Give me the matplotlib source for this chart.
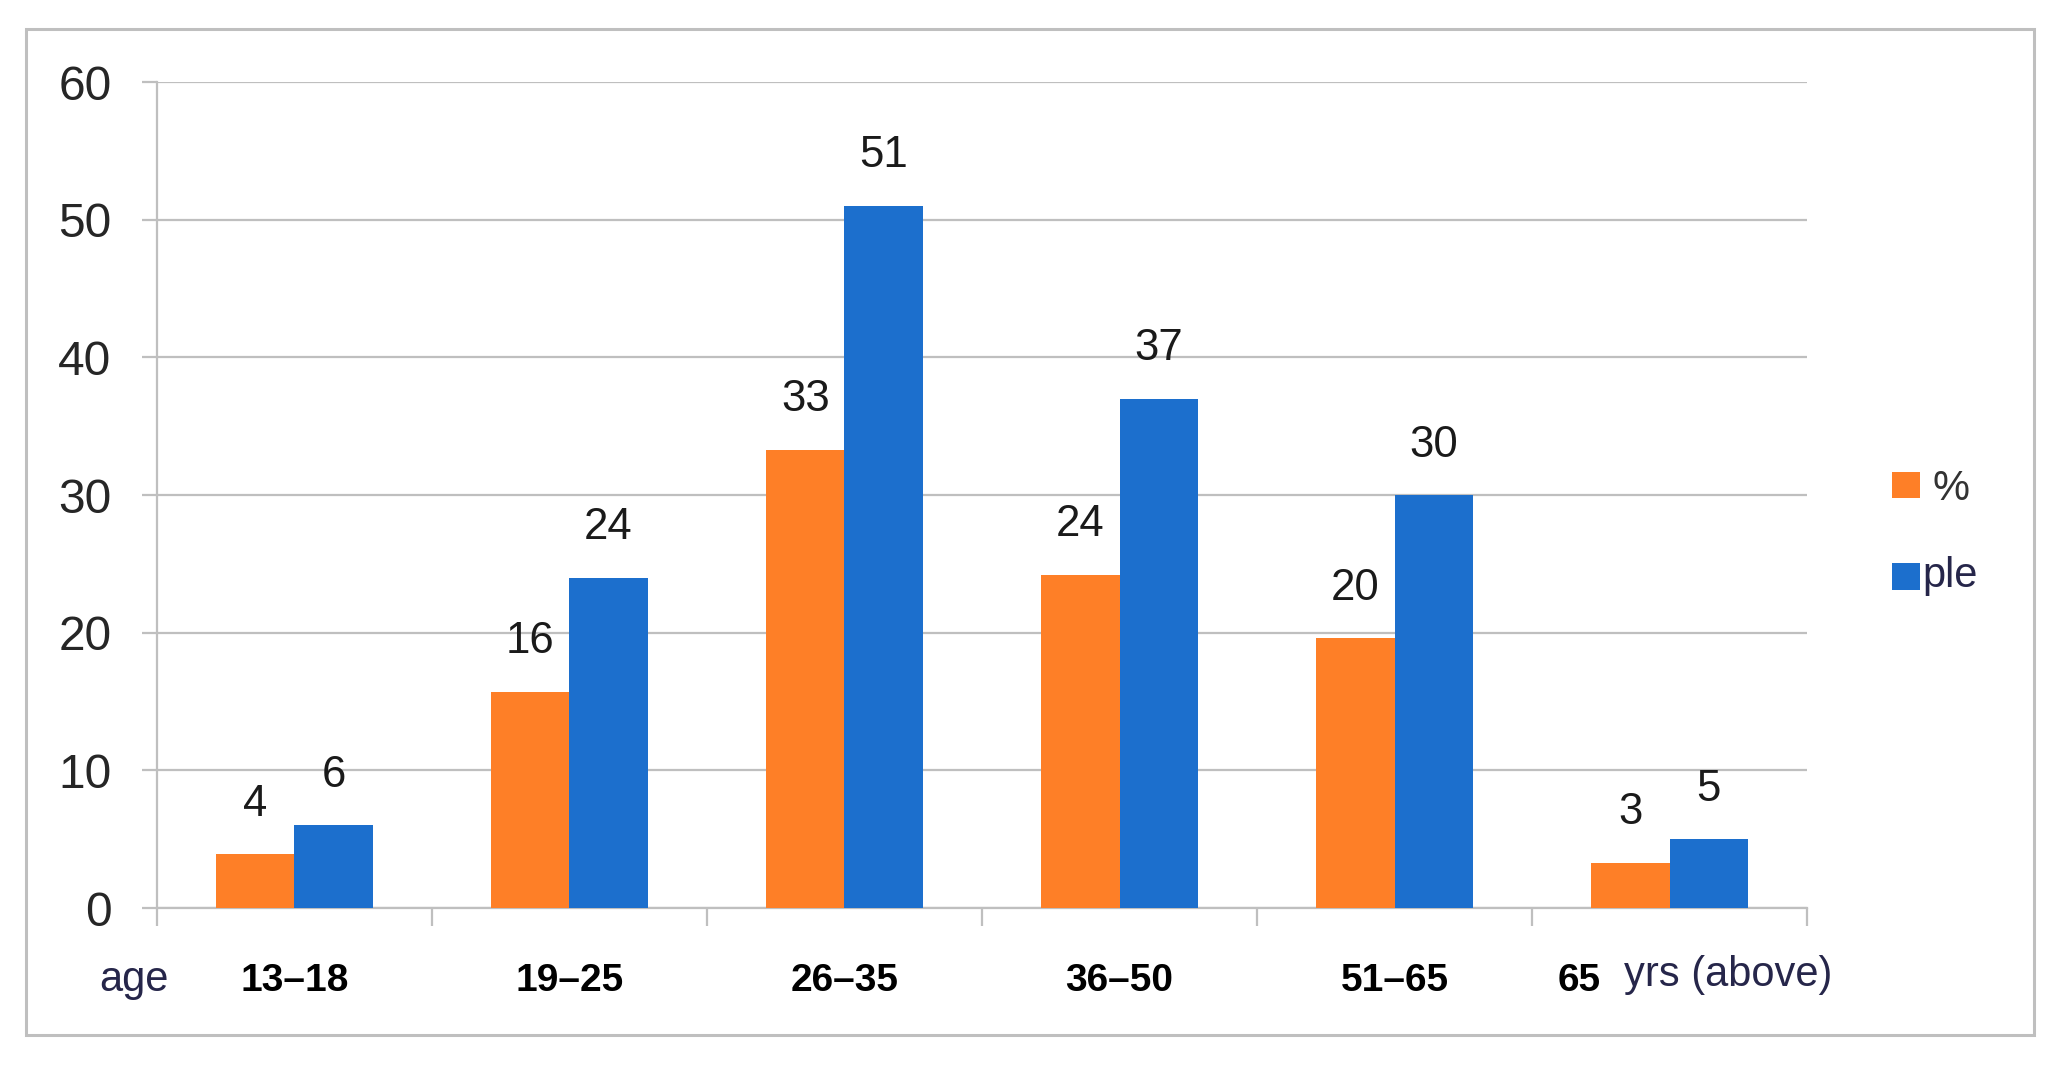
import numpy as np
import matplotlib
matplotlib.use("Agg")
from matplotlib import pyplot as plt
from matplotlib.patches import Rectangle

# data
categories = ["13–18", "19–25", "26–35", "36–50", "51–65", "65"]
percent = [3.9, 15.7, 33.3, 24.2, 19.6, 3.3]
people = [6, 24, 51, 37, 30, 5]
percentLabels = ["4", "16", "33", "24", "20", "3"]
peopleLabels = ["6", "24", "51", "37", "30", "5"]
legendNames = ["%", "ple"]
yTicks = [0, 10, 20, 30, 40, 50, 60]

orange = "#FE7F27"
blue = "#1C6FCD"
gray = "#BFBFBF"

plt.rcParams["font.family"] = ["Liberation Sans", "DejaVu Sans"]

fig = plt.figure(figsize=(20.6, 10.68), dpi=100)
ax = fig.add_axes([0.0762, 0.1498, 0.8010, 0.7734])

x = np.arange(len(categories))
w = 0.284
ax.bar(x - w / 2, percent, width=w, color=orange, zorder=3)
ax.bar(x + w / 2, people, width=w, color=blue, zorder=3)

# value labels above the bars
for i in range(len(categories)):
    ax.annotate(percentLabels[i], (x[i] - w / 2, percent[i]), xytext=(0, 27.7),
                textcoords="offset points", ha="center", va="baseline",
                fontsize=31.5, color="#1a1a1a")
    ax.annotate(peopleLabels[i], (x[i] + w / 2, people[i]), xytext=(0, 27.7),
                textcoords="offset points", ha="center", va="baseline",
                fontsize=31.5, color="#1a1a1a")

ax.set_xlim(-0.5, len(categories) - 0.5)
ax.set_ylim(0, 60)
ax.set_yticks(yTicks)
ax.set_yticklabels([str(t) for t in yTicks], fontsize=34.5, color="#262626")
ax.yaxis.grid(True, color=gray, linewidth=1.6, zorder=0)
ax.tick_params(axis="y", length=10.8, width=1.6, color=gray, pad=22)

# x ticks at the category borders, labels drawn as text
ax.set_xticks(np.arange(-0.5, len(categories), 1.0))
ax.set_xticklabels([])
ax.tick_params(axis="x", length=13, width=1.6, color=gray)

for s in ["top", "right"]:
    ax.spines[s].set_visible(False)
for s in ["left", "bottom"]:
    ax.spines[s].set_color(gray)
    ax.spines[s].set_linewidth(1.6)

tr = ax.get_xaxis_transform()
for i in range(len(categories) - 1):
    ax.text(x[i], -0.1005, categories[i], transform=tr, ha="center", va="baseline",
            fontsize=28, fontweight="bold", color="black")
ax.text(4.673, -0.1005, categories[-1], transform=tr, ha="center", va="baseline",
        fontsize=28, fontweight="bold", color="black")
ax.text(4.833, -0.095, "yrs (above)", transform=tr, ha="left", va="baseline",
        fontsize=30, color="#26264a")
ax.text(-0.585, -0.1, "age", transform=tr, ha="center", va="baseline",
        fontsize=30, color="#26264a")

# legend drawn by hand
fig.patches.append(Rectangle((0.9184, 0.5337), 0.0136, 0.0243, transform=fig.transFigure,
                             facecolor=orange, edgecolor="none"))
fig.patches.append(Rectangle((0.9184, 0.4476), 0.0136, 0.0253, transform=fig.transFigure,
                             facecolor=blue, edgecolor="none"))
fig.text(0.9383, 0.532, legendNames[0], fontsize=30, color="#333333", va="baseline")
fig.text(0.9330, 0.4504, legendNames[1], fontsize=30, color="#26264a", va="baseline")

# outer frame
fig.patches.append(Rectangle((0.0126, 0.0309), 0.975, 0.942, transform=fig.transFigure,
                             facecolor="none", edgecolor=gray, linewidth=2.2))

plt.savefig("out.png", dpi=100)
